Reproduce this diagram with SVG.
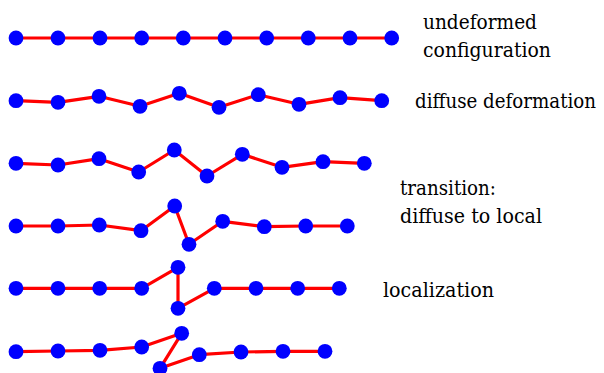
<svg xmlns="http://www.w3.org/2000/svg" width="604" height="373" viewBox="0 0 604 373">
  <style>
    .bond { fill: none; stroke: #ff0000; stroke-width: 3.2; stroke-linejoin: round; stroke-linecap: round; }
    .atom { fill: #0000ff; }
    .label { font-family: 'DejaVu Serif', 'Liberation Serif', serif; font-size: 21px; fill: #000000; }
  </style>
  <defs>
    <circle id="bead" r="7.4" class="atom"/>
  </defs>

  <!-- bonds between neighbouring beads, one chain per row -->
  <g id="connectors">
    <polyline class="bond" points="16,38 58,38 100,38 141.7,38 183.3,38 225,38 266.7,38 308.3,38 350,38 391.7,38"/>
    <polyline class="bond" points="16,100.7 58,102.3 99,96.3 140,106.3 179.3,93.3 219,107.3 258.3,94.7 299,104.3 340,97.7 381.7,100.7"/>
    <polyline class="bond" points="16,163.3 58,165 99,158.7 138.7,172 174.3,150 207,176 242.3,154.3 282,167.3 323,161.7 364.3,163.3"/>
    <polyline class="bond" points="16,226 58,226 99.3,225 141,230.7 174.7,206 189,244.3 222.7,221.3 264.3,226.7 305.7,226 347.3,226"/>
    <polyline class="bond" points="16,288.3 58,288.3 99.7,288.3 141.7,288.3 178,267.3 178,308.3 214.3,288.3 256,288.3 297.7,288.3 339.3,288.3"/>
    <polyline class="bond" points="16,351.7 58,351 100,350.3 141.7,347 181.7,333.3 160,368.3 199.3,354.7 241,352 283,351.3 325,351.3"/>
  </g>

  <!-- row 1: undeformed -->
  <g id="r1n1"><use href="#bead" x="16" y="38"/></g>
  <g id="r1n2"><use href="#bead" x="58" y="38"/></g>
  <g id="r1n3"><use href="#bead" x="100" y="38"/></g>
  <g id="r1n4"><use href="#bead" x="141.7" y="38"/></g>
  <g id="r1n5"><use href="#bead" x="183.3" y="38"/></g>
  <g id="r1n6"><use href="#bead" x="225" y="38"/></g>
  <g id="r1n7"><use href="#bead" x="266.7" y="38"/></g>
  <g id="r1n8"><use href="#bead" x="308.3" y="38"/></g>
  <g id="r1n9"><use href="#bead" x="350" y="38"/></g>
  <g id="r1n10"><use href="#bead" x="391.7" y="38"/></g>

  <!-- row 2: diffuse deformation -->
  <g id="r2n1"><use href="#bead" x="16" y="100.7"/></g>
  <g id="r2n2"><use href="#bead" x="58" y="102.3"/></g>
  <g id="r2n3"><use href="#bead" x="99" y="96.3"/></g>
  <g id="r2n4"><use href="#bead" x="140" y="106.3"/></g>
  <g id="r2n5"><use href="#bead" x="179.3" y="93.3"/></g>
  <g id="r2n6"><use href="#bead" x="219" y="107.3"/></g>
  <g id="r2n7"><use href="#bead" x="258.3" y="94.7"/></g>
  <g id="r2n8"><use href="#bead" x="299" y="104.3"/></g>
  <g id="r2n9"><use href="#bead" x="340" y="97.7"/></g>
  <g id="r2n10"><use href="#bead" x="381.7" y="100.7"/></g>

  <!-- row 3 -->
  <g id="r3n1"><use href="#bead" x="16" y="163.3"/></g>
  <g id="r3n2"><use href="#bead" x="58" y="165"/></g>
  <g id="r3n3"><use href="#bead" x="99" y="158.7"/></g>
  <g id="r3n4"><use href="#bead" x="138.7" y="172"/></g>
  <g id="r3n5"><use href="#bead" x="174.3" y="150"/></g>
  <g id="r3n6"><use href="#bead" x="207" y="176"/></g>
  <g id="r3n7"><use href="#bead" x="242.3" y="154.3"/></g>
  <g id="r3n8"><use href="#bead" x="282" y="167.3"/></g>
  <g id="r3n9"><use href="#bead" x="323" y="161.7"/></g>
  <g id="r3n10"><use href="#bead" x="364.3" y="163.3"/></g>

  <!-- row 4: transition -->
  <g id="r4n1"><use href="#bead" x="16" y="226"/></g>
  <g id="r4n2"><use href="#bead" x="58" y="226"/></g>
  <g id="r4n3"><use href="#bead" x="99.3" y="225"/></g>
  <g id="r4n4"><use href="#bead" x="141" y="230.7"/></g>
  <g id="r4n5"><use href="#bead" x="174.7" y="206"/></g>
  <g id="r4n6"><use href="#bead" x="189" y="244.3"/></g>
  <g id="r4n7"><use href="#bead" x="222.7" y="221.3"/></g>
  <g id="r4n8"><use href="#bead" x="264.3" y="226.7"/></g>
  <g id="r4n9"><use href="#bead" x="305.7" y="226"/></g>
  <g id="r4n10"><use href="#bead" x="347.3" y="226"/></g>

  <!-- row 5: localization -->
  <g id="r5n1"><use href="#bead" x="16" y="288.3"/></g>
  <g id="r5n2"><use href="#bead" x="58" y="288.3"/></g>
  <g id="r5n3"><use href="#bead" x="99.7" y="288.3"/></g>
  <g id="r5n4"><use href="#bead" x="141.7" y="288.3"/></g>
  <g id="r5n5"><use href="#bead" x="178" y="267.3"/></g>
  <g id="r5n6"><use href="#bead" x="178" y="308.3"/></g>
  <g id="r5n7"><use href="#bead" x="214.3" y="288.3"/></g>
  <g id="r5n8"><use href="#bead" x="256" y="288.3"/></g>
  <g id="r5n9"><use href="#bead" x="297.7" y="288.3"/></g>
  <g id="r5n10"><use href="#bead" x="339.3" y="288.3"/></g>

  <!-- row 6 -->
  <g id="r6n1"><use href="#bead" x="16" y="351.7"/></g>
  <g id="r6n2"><use href="#bead" x="58" y="351"/></g>
  <g id="r6n3"><use href="#bead" x="100" y="350.3"/></g>
  <g id="r6n4"><use href="#bead" x="141.7" y="347"/></g>
  <g id="r6n5"><use href="#bead" x="181.7" y="333.3"/></g>
  <g id="r6n6"><use href="#bead" x="160" y="368.3"/></g>
  <g id="r6n7"><use href="#bead" x="199.3" y="354.7"/></g>
  <g id="r6n8"><use href="#bead" x="241" y="352"/></g>
  <g id="r6n9"><use href="#bead" x="283" y="351.3"/></g>
  <g id="r6n10"><use href="#bead" x="325" y="351.3"/></g>

  <!-- row captions -->
  <g id="labels">
    <text class="label" x="423" y="29" textLength="114" lengthAdjust="spacingAndGlyphs">undeformed</text>
    <text class="label" x="423" y="56.5" textLength="128" lengthAdjust="spacingAndGlyphs">configuration</text>
    <text class="label" x="415" y="107.5" textLength="181" lengthAdjust="spacingAndGlyphs">diffuse deformation</text>
    <text class="label" x="400" y="194.5" textLength="96" lengthAdjust="spacingAndGlyphs">transition:</text>
    <text class="label" x="400" y="222.5" textLength="142" lengthAdjust="spacingAndGlyphs">diffuse to local</text>
    <text class="label" x="383" y="296.5" textLength="111" lengthAdjust="spacingAndGlyphs">localization</text>
  </g>
</svg>
